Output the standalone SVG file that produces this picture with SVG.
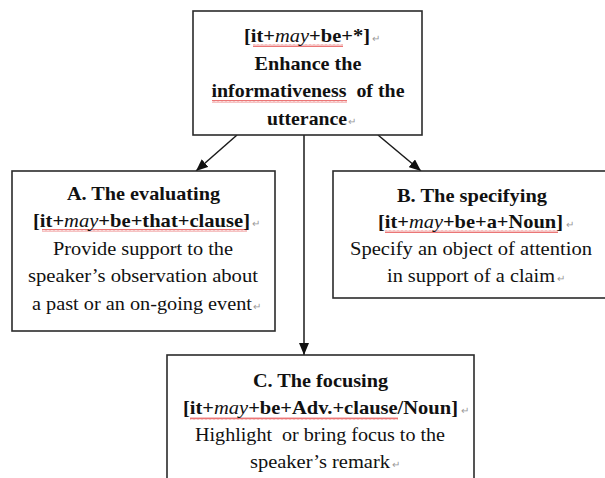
<svg xmlns="http://www.w3.org/2000/svg" width="605" height="478" viewBox="0 0 605 478">
  <style>
    .box { fill: #ffffff; stroke: #2b2b2b; stroke-width: 1.6; }
    .edge { stroke: #1a1a1a; stroke-width: 1.5; fill: none; }
    text { font-family: "Liberation Serif", "Times New Roman", serif; font-size: 19px; fill: #111111; text-anchor: middle; }
    .b { font-weight: bold; }
    .it { font-style: italic; font-weight: normal; }
    .pm { font-size: 10px; fill: #9a9a9a; font-weight: normal; text-anchor: start; }
    .wavy { fill: url(#squiggle); }
  </style>
  <defs>
    <marker id="arrow" viewBox="0 0 12 10" refX="12" refY="5" markerWidth="12" markerHeight="10" markerUnits="userSpaceOnUse" orient="auto">
      <path d="M0,0 L12,5 L0,10 z" fill="#111111"/>
    </marker>
    <pattern id="squiggle" x="0" y="0" width="4" height="3" patternUnits="userSpaceOnUse">
      <path d="M0,2.5 L1,0.5 L2,2.5 L3,0.5 L4,2.5" fill="none" stroke="#e23b3b" stroke-width="0.7"/>
    </pattern>
  </defs>

  <!-- connectors -->
  <g id="connectors">
    <line class="edge" x1="237" y1="135" x2="196" y2="171" marker-end="url(#arrow)"/>
    <line class="edge" x1="378" y1="135" x2="421" y2="171" marker-end="url(#arrow)"/>
    <line class="edge" x1="304" y1="135" x2="304" y2="355" marker-end="url(#arrow)"/>
  </g>

  <!-- root: general function -->
  <g id="node-root">
    <rect class="box" x="193" y="11" width="229" height="124"/>
    <rect class="wavy" x="253" y="44" width="90" height="3"/>
    <rect class="wavy" x="212" y="100" width="135" height="3"/>
    <text x="307" y="42" class="b" textLength="126" lengthAdjust="spacingAndGlyphs">[it+<tspan class="it">may</tspan>+be+*]</text>
    <text x="372" y="42" class="pm">↵</text>
    <text x="308" y="70" class="b" textLength="107" lengthAdjust="spacingAndGlyphs">Enhance the</text>
    <text x="308" y="97" class="b" textLength="193" lengthAdjust="spacingAndGlyphs">informativeness&#160; of the</text>
    <text x="307" y="125" class="b" textLength="80" lengthAdjust="spacingAndGlyphs">utterance</text>
    <text x="348" y="125" class="pm">↵</text>
  </g>

  <!-- A: evaluating -->
  <g id="node-a">
    <rect class="box" x="12" y="171" width="263" height="160"/>
    <rect class="wavy" x="42" y="229" width="205" height="3"/>
    <text x="143.5" y="200" class="b" textLength="153" lengthAdjust="spacingAndGlyphs">A. The evaluating</text>
    <text x="141.5" y="227" class="b" textLength="217" lengthAdjust="spacingAndGlyphs">[it+<tspan class="it">may</tspan>+be+that+clause]</text>
    <text x="252" y="227" class="pm">↵</text>
    <text x="143" y="255" textLength="180" lengthAdjust="spacingAndGlyphs">Provide support to the</text>
    <text x="143" y="282" textLength="230" lengthAdjust="spacingAndGlyphs">speaker’s observation about</text>
    <text x="142" y="310" textLength="220" lengthAdjust="spacingAndGlyphs">a past or an on-going event</text>
    <text x="253" y="310" class="pm">↵</text>
  </g>

  <!-- B: specifying -->
  <g id="node-b">
    <rect class="box" x="333" y="171" width="278" height="127"/>
    <rect class="wavy" x="385" y="230" width="173" height="3"/>
    <text x="472" y="202" class="b" textLength="150" lengthAdjust="spacingAndGlyphs">B. The specifying</text>
    <text x="470.5" y="228" class="b" textLength="185" lengthAdjust="spacingAndGlyphs">[it+<tspan class="it">may</tspan>+be+a+Noun]</text>
    <text x="566" y="228" class="pm">↵</text>
    <text x="471" y="255" textLength="242" lengthAdjust="spacingAndGlyphs">Specify an object of attention</text>
    <text x="471" y="282" textLength="168" lengthAdjust="spacingAndGlyphs">in support of a claim</text>
    <text x="557" y="282" class="pm">↵</text>
  </g>

  <!-- C: focusing -->
  <g id="node-c">
    <rect class="box" x="167" y="355" width="307" height="140"/>
    <rect class="wavy" x="190" y="417" width="208" height="3"/>
    <text x="320.5" y="387" class="b" textLength="135" lengthAdjust="spacingAndGlyphs">C. The focusing</text>
    <text x="320.5" y="414" class="b" textLength="275" lengthAdjust="spacingAndGlyphs">[it+<tspan class="it">may</tspan>+be+Adv.+clause/Noun]</text>
    <text x="461" y="414" class="pm">↵</text>
    <text x="320" y="441" textLength="250" lengthAdjust="spacingAndGlyphs">Highlight&#160; or bring focus to the</text>
    <text x="320" y="468" textLength="140" lengthAdjust="spacingAndGlyphs">speaker’s remark</text>
    <text x="392" y="468" class="pm">↵</text>
  </g>
</svg>
